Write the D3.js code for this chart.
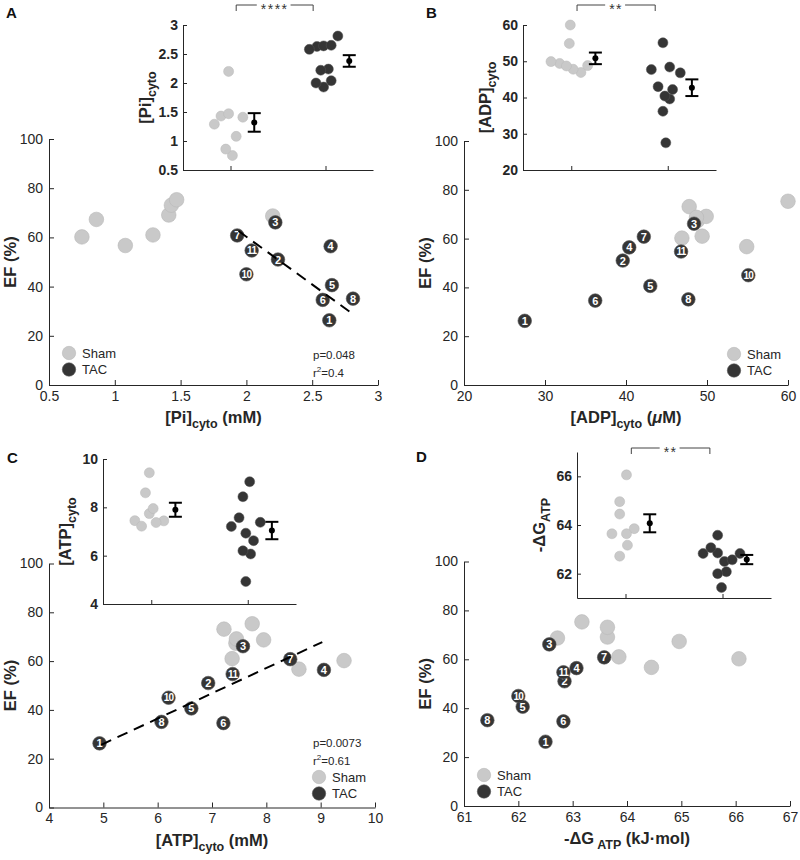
<!DOCTYPE html>
<html><head><meta charset="utf-8">
<script src="https://cdn.jsdelivr.net/npm/d3@7"></script>
<style>
body{margin:0;background:#fff}
svg{display:block}
text{font-family:"Liberation Sans",Arial,Helvetica,sans-serif}
</style>
</head><body>
<svg id="chart" width="800" height="860"></svg>
<script>
// ---------------- DATA ----------------
// Sham animals S1..S8
const shamEF  = [60.2, 67.3, 56.7, 61.0, 69.1, 73.1, 75.3, 68.7];
const shamPi  = [0.75, 0.86, 1.08, 1.29, 1.41, 1.43, 1.47, 2.20];
const shamADP = [46.9, 48.8, 54.9, 49.4, 49.9, 47.8, 60.0, 48.7];
const shamATP = [9.43, 7.44, 8.60, 7.37, 7.45, 7.22, 7.74, 7.95];
const shamDG  = [66.06, 64.96, 64.45, 63.85, 63.64, 63.64, 63.17, 62.72];
// TAC animals (labelled)
const tacIds  = [1, 2, 3, 4, 5, 6, 7, 8, 10, 11];
const tacEF   = [26.3, 51.0, 66.1, 56.4, 40.6, 34.6, 60.8, 35.1, 45.0, 54.7];
const tacPi   = [2.63, 2.24, 2.22, 2.64, 2.65, 2.58, 1.93, 2.81, 2.00, 2.04];
const tacADP  = [27.5, 39.6, 48.4, 40.4, 43.0, 36.2, 42.2, 47.7, 55.1, 46.8];
const tacATP  = [4.93, 6.93, 7.57, 9.06, 6.62, 7.21, 8.44, 6.07, 6.20, 7.38];
const tacDG   = [62.50, 62.85, 62.57, 63.07, 62.08, 62.83, 63.58, 61.43, 62.00, 62.83];
// inset horizontal jitter (category units)
const jitShamPi  = [0.02, -0.05, 0.06, -0.17, 0.13, -0.10, -0.02, -0.02];
const jitTacPi   = [-0.09, 0.03, -0.05, -0.02, 0.06, -0.17, -0.02, 0.13, -0.10, 0.06];
const jitShamADP = [0.10, 0.17, -0.02, -0.12, -0.21, 0.02, -0.01, -0.05];
const jitTacADP  = [-0.02, 0.02, 0.02, -0.03, -0.10, -0.05, 0.05, -0.17, -0.05, 0.13];
const jitShamATP = [-0.02, 0.13, -0.06, 0.05, -0.17, -0.10, -0.02, 0.02];
const jitTacATP  = [-0.02, -0.02, -0.09, 0.02, 0.06, -0.17, -0.05, 0.03, -0.05, 0.13];
const jitShamDG  = [0.01, -0.06, -0.06, 0.09, -0.14, 0.01, 0.02, -0.06];
const jitTacDG   = [0.02, -0.05, 0.10, -0.12, 0.04, 0.18, -0.05, -0.01, -0.05, -0.20];
// group mean and SEM [Sham, TAC]
const meanPi  = [1.32, 2.38],  semPi  = [0.16, 0.10];
const meanADP = [50.8, 42.7],  semADP = [1.6, 2.3];
const meanATP = [7.90, 7.04],  semATP = [0.29, 0.36];
const meanDG  = [64.07, 62.58], semDG = [0.37, 0.19];
// regression lines (TAC) endpoints [x, EF]
const fitPi  = [[1.94, 62.6], [2.79, 29.6]];
const fitATP = [[4.96, 25.7], [9.03, 67.8]];
const statsPi  = ["p=0.048", "0.4"];
const statsATP = ["p=0.0073", "0.61"];
// tick labels
const efTicks   = [0, 20, 40, 60, 80, 100];
const piTicks   = [0.5, 1, 1.5, 2, 2.5, 3];
const adpTicks  = [20, 30, 40, 50, 60];
const atpTicks  = [4, 5, 6, 7, 8, 9, 10];
const dgTicks   = [61, 62, 63, 64, 65, 66, 67];
const piInTicks  = [0.5, 1, 1.5, 2, 2.5, 3];
const adpInTicks = [20, 30, 40, 50, 60];
const atpInTicks = [4, 6, 8, 10];
const dgInTicks  = [62, 64, 66];
const groups = ["Sham", "TAC"];

// ---------------- STYLE ----------------
const AX = "#262626";
const SHAM_FILL = "#c9c9c9", SHAM_STROKE = "#b9b9b9";
const TAC_FILL = "#353535", TAC_STROKE = "#555";

const svg = d3.select("#chart");

function rich(textSel, parts, subSize, shift) {
  let inSub = false;
  parts.forEach(p => {
    const t = textSel.append("tspan").text(p.t);
    if (p.sub) { t.attr("font-size", subSize); if (!inSub) t.attr("dy", shift); inSub = true; }
    else if (inSub) { t.attr("dy", -shift); inSub = false; }
    if (p.it) t.attr("font-style", "italic");
  });
}

const panels = [
  { letter: "A", lx: 6, ly: 18,
    m: {x0: 49, x1: 378, y0: 385, y1: 139, xdom: [0.5, 3], xt: piTicks},
    xlab: [{t: "[Pi]"}, {t: "cyto", sub: true}, {t: " (mM)"}],
    sx: shamPi, tx: tacPi, fit: fitPi, stats: statsPi, statsPos: [313, 359],
    leg: [69, 353],
    ins: {x0: 183, x1: 373, y0: 170, y1: 25, ydom: [0.5, 3], yt: piInTicks,
          lab: [{t: "[Pi]"}, {t: "cyto", sub: true}],
          js: jitShamPi, jt: jitTacPi, mean: meanPi, sem: semPi, sig: "****", sigY: 5}
  },
  { letter: "B", lx: 426, ly: 18,
    m: {x0: 464, x1: 788, y0: 385, y1: 141, xdom: [20, 60], xt: adpTicks},
    xlab: [{t: "[ADP]"}, {t: "cyto", sub: true}, {t: " ("}, {t: "\u03bc", it: true}, {t: "M)"}],
    sx: shamADP, tx: tacADP, fit: null, stats: null,
    leg: [734, 354],
    ins: {x0: 523, x1: 716, y0: 170, y1: 25, ydom: [20, 60], yt: adpInTicks,
          lab: [{t: "[ADP]"}, {t: "cyto", sub: true}],
          js: jitShamADP, jt: jitTacADP, mean: meanADP, sem: semADP, sig: "**", sigY: 5}
  },
  { letter: "C", lx: 7, ly: 463,
    m: {x0: 49, x1: 375, y0: 807.5, y1: 563.5, xdom: [4, 10], xt: atpTicks},
    xlab: [{t: "[ATP]"}, {t: "cyto", sub: true}, {t: " (mM)"}],
    sx: shamATP, tx: tacATP, fit: fitATP, stats: statsATP, statsPos: [313, 747],
    leg: [319, 777],
    ins: {x0: 103, x1: 296, y0: 604, y1: 459, ydom: [4, 10], yt: atpInTicks,
          lab: [{t: "[ATP]"}, {t: "cyto", sub: true}],
          js: jitShamATP, jt: jitTacATP, mean: meanATP, sem: semATP, sig: null}
  },
  { letter: "D", lx: 416, ly: 462,
    m: {x0: 464, x1: 790, y0: 806, y1: 561.5, xdom: [61, 67], xt: dgTicks},
    xlab: [{t: "-\u0394G"}, {t: " ATP", sub: true}, {t: " (kJ\u00b7mol)"}],
    sx: shamDG, tx: tacDG, fit: null, stats: null,
    leg: [484, 775],
    ins: {x0: 577, x1: 771, y0: 598, y1: 452, ydom: [61, 67], yt: dgInTicks,
          lab: [{t: "-\u0394G"}, {t: "ATP", sub: true}],
          js: jitShamDG, jt: jitTacDG, mean: meanDG, sem: semDG, sig: "**", sigY: 448}
  }
];

function styleAxis(g, fs, fw) {
  g.select(".domain").attr("stroke", AX).attr("stroke-width", 1);
  g.selectAll(".tick line").attr("stroke", AX).attr("stroke-width", 1);
  g.selectAll(".tick text").attr("fill", AX).attr("font-size", fs).attr("font-weight", fw)
    .attr("font-family", '"Liberation Sans",Arial,sans-serif');
}

panels.forEach(p => {
  const g = svg.append("g");
  // panel letter
  g.append("text").attr("x", p.lx).attr("y", p.ly).text(p.letter)
    .attr("font-size", 15).attr("font-weight", "bold").attr("fill", "#111");

  // ---------- main scatter ----------
  const m = p.m;
  const x = d3.scaleLinear().domain(m.xdom).range([m.x0, m.x1]);
  const y = d3.scaleLinear().domain([0, 100]).range([m.y0, m.y1]);
  const gx = g.append("g").attr("transform", `translate(0,${m.y0})`)
    .call(d3.axisBottom(x).tickValues(m.xt).tickFormat(d => String(d)).tickSizeInner(-5).tickSizeOuter(0).tickPadding(6));
  styleAxis(gx, 14, "normal");
  const gy = g.append("g").attr("transform", `translate(${m.x0},0)`)
    .call(d3.axisLeft(y).tickValues(efTicks).tickFormat(d => String(d)).tickSizeInner(-5).tickSizeOuter(0).tickPadding(6));
  styleAxis(gy, 14, "normal");

  // axis labels
  const xl = g.append("text").attr("x", (m.x0 + m.x1) / 2).attr("y", m.y0 + 38)
    .attr("text-anchor", "middle").attr("font-size", 16.5).attr("font-weight", "bold").attr("fill", AX);
  rich(xl, p.xlab, 12.5, 5);
  g.append("text").attr("transform", `translate(${m.x0 - 33},${(m.y0 + m.y1) / 2}) rotate(-90)`)
    .attr("text-anchor", "middle").attr("font-size", 16.5).attr("font-weight", "bold").attr("fill", AX)
    .text("EF (%)");

  // sham points
  g.append("g").selectAll("circle").data(d3.range(p.sx.length)).join("circle")
    .attr("cx", i => x(p.sx[i])).attr("cy", i => y(shamEF[i])).attr("r", 7.3)
    .attr("fill", SHAM_FILL).attr("stroke", SHAM_STROKE).attr("stroke-width", 0.6);
  // TAC points
  const tg = g.append("g").selectAll("g").data(d3.range(p.tx.length)).join("g")
    .attr("transform", i => `translate(${x(p.tx[i])},${y(tacEF[i])})`);
  tg.append("circle").attr("r", 6.8).attr("fill", TAC_FILL).attr("stroke", TAC_STROKE).attr("stroke-width", 0.6);
  tg.append("text").text(i => tacIds[i]).attr("text-anchor", "middle").attr("dy", "0.36em")
    .attr("font-size", i => tacIds[i] > 9 ? 10 : 11).attr("font-weight", "bold").attr("fill", "#fff")
    .attr("letter-spacing", i => tacIds[i] > 9 ? -0.7 : 0);

  // regression line
  if (p.fit) {
    g.append("path").attr("d", d3.line().x(d => x(d[0])).y(d => y(d[1]))(p.fit))
      .attr("stroke", "#000").attr("stroke-width", 2).attr("stroke-dasharray", "11,7").attr("fill", "none");
  }
  // stats
  if (p.stats) {
    const [sx0, sy0] = p.statsPos;
    g.append("text").attr("x", sx0).attr("y", sy0).text(p.stats[0])
      .attr("font-size", 11.5).attr("fill", AX);
    const r2 = g.append("text").attr("x", sx0).attr("y", sy0 + 18).attr("font-size", 11.5).attr("fill", AX);
    r2.append("tspan").text("r");
    r2.append("tspan").text("2").attr("font-size", 8).attr("dy", -5);
    r2.append("tspan").text("=" + p.stats[1]).attr("dy", 5);
  }
  // legend
  const [lx0, ly0] = p.leg;
  groups.forEach((gr, k) => {
    const cy = ly0 + k * 16.5;
    g.append("circle").attr("cx", lx0).attr("cy", cy).attr("r", 6.7)
      .attr("fill", k === 0 ? SHAM_FILL : TAC_FILL).attr("stroke", k === 0 ? SHAM_STROKE : TAC_STROKE).attr("stroke-width", 0.6);
    g.append("text").attr("x", lx0 + 13).attr("y", cy).attr("dy", "0.36em").text(gr)
      .attr("font-size", 13).attr("fill", AX);
  });

  // ---------- inset ----------
  const q = p.ins;
  const xi = d3.scaleLinear().domain([0.5, 2.5]).range([q.x0, q.x1]);
  const yi = d3.scaleLinear().domain(q.ydom).range([q.y0, q.y1]);
  const ig = g.append("g");
  const ix = ig.append("g").attr("transform", `translate(0,${q.y0})`)
    .call(d3.axisBottom(xi).tickValues([1, 2]).tickFormat("").tickSizeInner(-4).tickSizeOuter(0));
  styleAxis(ix, 13, "bold");
  const iy = ig.append("g").attr("transform", `translate(${q.x0},0)`)
    .call(d3.axisLeft(yi).tickValues(q.yt).tickFormat(d => String(d)).tickSizeInner(-4).tickSizeOuter(0).tickPadding(5));
  styleAxis(iy, 14, "bold");
  const yl = ig.append("text").attr("transform", `translate(${q.x0 - 32},${(q.y0 + q.y1) / 2}) rotate(-90)`)
    .attr("text-anchor", "middle").attr("font-size", 16.5).attr("font-weight", "bold").attr("fill", AX);
  rich(yl, q.lab, 12.5, 5);

  ig.append("g").selectAll("circle").data(d3.range(p.sx.length)).join("circle")
    .attr("cx", i => xi(1 + q.js[i])).attr("cy", i => yi(p.sx[i])).attr("r", 5)
    .attr("fill", SHAM_FILL).attr("stroke", SHAM_STROKE).attr("stroke-width", 0.5);
  ig.append("g").selectAll("circle").data(d3.range(p.tx.length)).join("circle")
    .attr("cx", i => xi(2 + q.jt[i])).attr("cy", i => yi(p.tx[i])).attr("r", 5)
    .attr("fill", TAC_FILL).attr("stroke", TAC_STROKE).attr("stroke-width", 0.5);

  // mean +- SEM
  [0, 1].forEach(k => {
    const cx = xi(k + 1.25);
    const top = yi(q.mean[k] + q.sem[k]), bot = yi(q.mean[k] - q.sem[k]);
    ig.append("line").attr("x1", cx).attr("x2", cx).attr("y1", top).attr("y2", bot).attr("stroke", "#000").attr("stroke-width", 2);
    [top, bot].forEach(yy => ig.append("line").attr("x1", cx - 6.5).attr("x2", cx + 6.5).attr("y1", yy).attr("y2", yy)
      .attr("stroke", "#000").attr("stroke-width", 2));
    ig.append("circle").attr("cx", cx).attr("cy", yi(q.mean[k])).attr("r", 3).attr("fill", "#000");
  });

  // significance bracket
  if (q.sig) {
    const bx1 = xi(1.06), bx2 = xi(1.87), by = q.sigY;
    ig.append("path").attr("d", `M${bx1},${by + 6}V${by}H${bx2}V${by + 6}`)
      .attr("fill", "none").attr("stroke", "#444").attr("stroke-width", 1);
    const st = ig.append("text").attr("x", (bx1 + bx2) / 2).attr("y", by + 9).attr("text-anchor", "middle")
      .attr("font-size", 14).attr("letter-spacing", 1.5).attr("fill", "#333").text(q.sig);
    const bb = st.node().getBBox();
    ig.insert("rect", () => st.node()).attr("x", bb.x - 4).attr("y", by - 3).attr("width", bb.width + 6).attr("height", 6).attr("fill", "#fff");
  }
});
</script>
</body></html>
